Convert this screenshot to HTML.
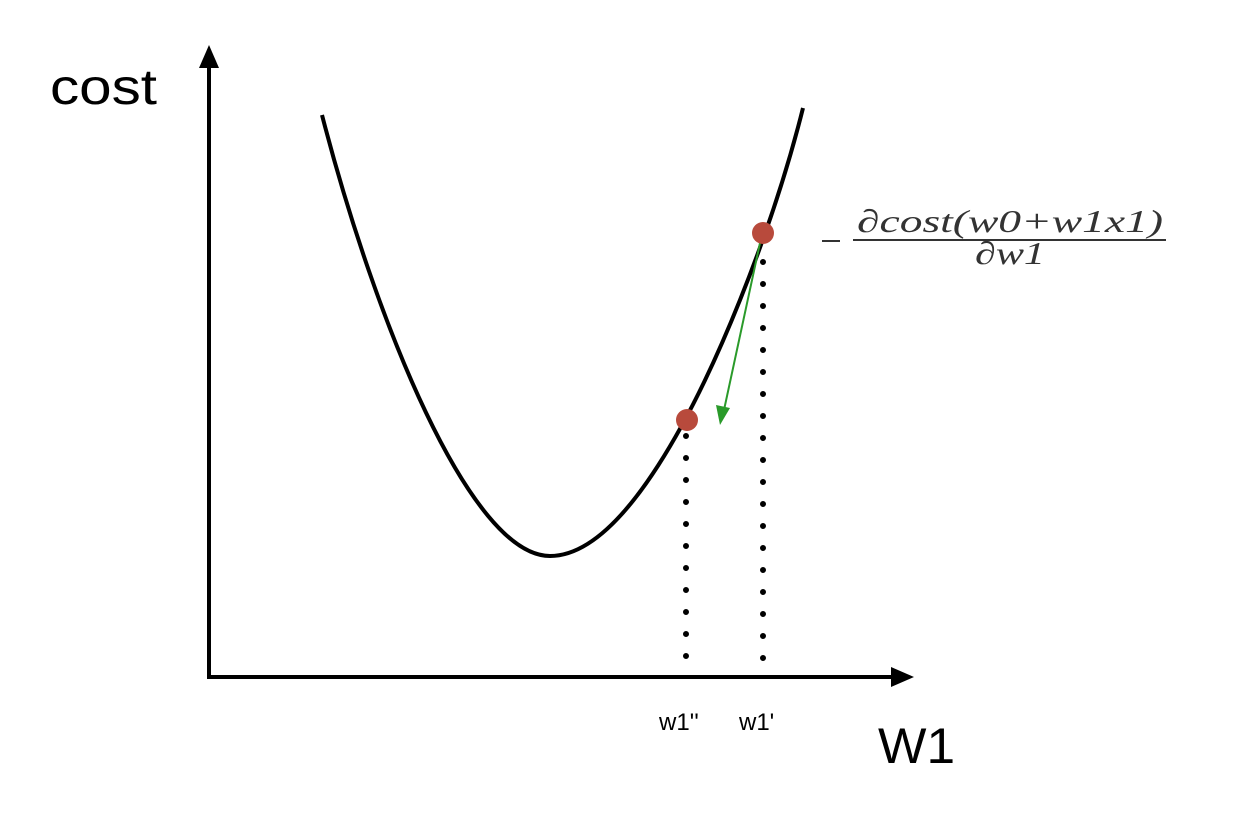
<!DOCTYPE html>
<html><head><style>body{margin:0;background:#fff}svg{display:block}</style></head><body>
<svg width="1246" height="816" xmlns="http://www.w3.org/2000/svg">
<line x1="209" y1="62" x2="209" y2="677" stroke="#000" stroke-width="4"/>
<polygon points="209,45 199,68 219,68" fill="#000"/>
<line x1="207" y1="677" x2="895" y2="677" stroke="#000" stroke-width="4"/>
<polygon points="914,677 891,667 891,687" fill="#000"/>
<path d="M322,115 C375,320 470,556 550,556 C625,556 700,400 740,300 C770,225 790,160 803,108" fill="none" stroke="#000" stroke-width="4"/>
<line x1="763" y1="240" x2="763" y2="662" stroke="#000" stroke-width="6" stroke-linecap="round" stroke-dasharray="0 22"/>
<line x1="686" y1="436" x2="686" y2="662" stroke="#000" stroke-width="6" stroke-linecap="round" stroke-dasharray="0 22"/>
<line x1="760" y1="243" x2="724" y2="410" stroke="#2a9a2a" stroke-width="2"/>
<polygon points="720,425 716,405 730,408" fill="#2a9a2a"/>
<circle cx="763" cy="233" r="11" fill="#b84a3c"/>
<circle cx="687" cy="420" r="11" fill="#b84a3c"/>
<text x="50" y="104" font-family="Liberation Sans, sans-serif" font-size="50" fill="#000" textLength="107" lengthAdjust="spacingAndGlyphs">cost</text>
<text x="878" y="763" font-family="Liberation Sans, sans-serif" font-size="50" fill="#000" textLength="77" lengthAdjust="spacingAndGlyphs">W1</text>
<text x="659" y="730" font-family="Liberation Sans, sans-serif" font-size="24" fill="#000">w1''</text>
<text x="739" y="730" font-family="Liberation Sans, sans-serif" font-size="24" fill="#000">w1'</text>
<g font-family="Liberation Serif, serif" font-style="italic" fill="#333">
<line x1="822" y1="241" x2="840" y2="241" stroke="#333" stroke-width="2"/>
<text x="857" y="232" font-size="32" textLength="306" lengthAdjust="spacingAndGlyphs">∂cost(w0+w1x1)</text>
<line x1="853" y1="240" x2="1166" y2="240" stroke="#333" stroke-width="2"/>
<text x="975" y="264" font-size="32" textLength="70" lengthAdjust="spacingAndGlyphs">∂w1</text>
</g>
</svg>
</body></html>
